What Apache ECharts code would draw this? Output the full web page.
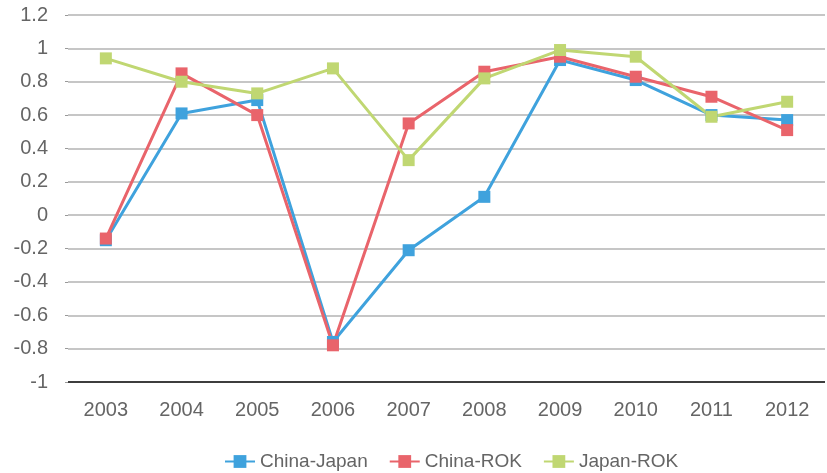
<!DOCTYPE html>
<html>
<head>
<meta charset="utf-8">
<script src="https://cdn.jsdelivr.net/npm/echarts@6/dist/echarts.min.js"></script>
<style>
  html, body { margin: 0; padding: 0; background: #fff; }
  #chart { width: 827px; height: 473px; }
</style>
</head>
<body>
<div id="chart"></div>
<script>
// Correlation coefficients by pair of countries, 2003-2012
const years = ['2003', '2004', '2005', '2006', '2007', '2008', '2009', '2010', '2011', '2012'];
const chinaJapan = [-0.15, 0.61, 0.69, -0.76, -0.21, 0.11, 0.93, 0.81, 0.60, 0.57];
const chinaROK   = [-0.14, 0.85, 0.60, -0.78, 0.55, 0.86, 0.95, 0.83, 0.71, 0.51];
const japanROK   = [0.94, 0.80, 0.73, 0.88, 0.33, 0.82, 0.99, 0.95, 0.59, 0.68];

const FONT = '"Liberation Sans", Arial, sans-serif';
const TEXT = '#656565';

function lineSeries(name, data, color) {
  return {
    name: name,
    type: 'line',
    data: data,
    symbol: 'rect',
    symbolSize: 12,
    lineStyle: { color: color, width: 3 },
    itemStyle: { color: color },
    emphasis: { disabled: true },
    animation: false
  };
}

const chart = echarts.init(document.getElementById('chart'));
chart.setOption({
  backgroundColor: '#ffffff',
  animation: false,
  grid: { left: 68, right: 2, top: 15, bottom: 91 },
  legend: {
    top: 452,
    left: 224,
    padding: 0,
    itemWidth: 30,
    itemHeight: 16,
    itemGap: 21,
    textStyle: { fontFamily: FONT, fontSize: 19, color: TEXT },
    data: ['China-Japan', 'China-ROK', 'Japan-ROK']
  },
  xAxis: {
    type: 'category',
    data: years,
    boundaryGap: true,
    axisLine: { show: false },
    axisTick: { show: false },
    axisLabel: { fontFamily: FONT, fontSize: 20, color: TEXT, margin: 18 }
  },
  yAxis: {
    type: 'value',
    min: -1,
    max: 1.2,
    interval: 0.2,
    axisLine: { show: false },
    axisTick: { show: true, length: 3, lineStyle: { color: '#999' } },
    axisLabel: {
      fontFamily: FONT, fontSize: 20, color: TEXT, margin: 20,
      formatter: v => String(Math.round(v * 10) / 10)
    },
    splitLine: {
      show: true,
      lineStyle: { color: '#b3b3b3', width: 1.5 }
    }
  },
  series: [
    lineSeries('China-Japan', chinaJapan, '#3fa2dd'),
    lineSeries('China-ROK', chinaROK, '#e9646b'),
    lineSeries('Japan-ROK', japanROK, '#c0d772'),
    {
      // baseline at the bottom of the value axis
      type: 'line',
      data: [],
      silent: true,
      markLine: {
        symbol: 'none',
        silent: true,
        label: { show: false },
        lineStyle: { color: '#111', width: 1.5, type: 'solid' },
        data: [{ yAxis: -1 }]
      }
    }
  ]
});
</script>
</body>
</html>
